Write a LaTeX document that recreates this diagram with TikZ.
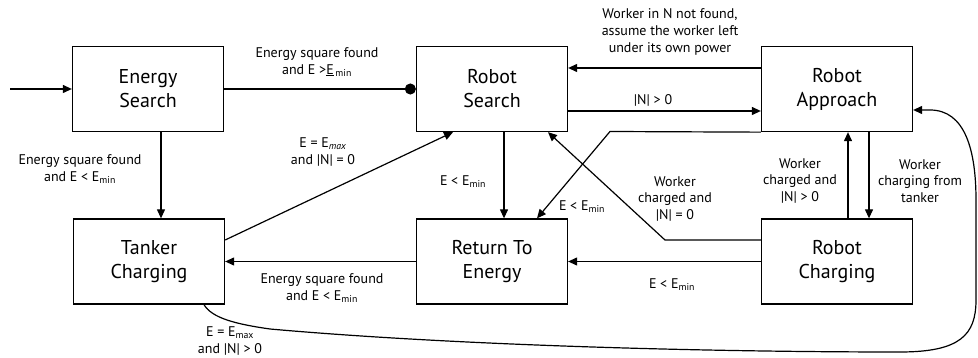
\documentclass[tikz,border=0pt]{standalone}
\usepackage{fontspec}
\setmainfont{PT Sans}
\usetikzlibrary{arrows.meta}
\newcommand{\Emin}{E\textsubscript{min}}
\begin{document}
\begin{tikzpicture}[x=1pt,y=-1pt,
  statebox/.style={draw,line width=1.3pt,minimum width=151pt,minimum height=85pt,inner sep=0pt,align=center,font=\fontsize{20}{24}\selectfont},
  lbl/.style={align=center,inner sep=0pt,font=\fontsize{14}{16.8}\selectfont},
  conn/.style={line width=1.2pt,-{Triangle[length=9pt,width=8pt]}},
  dot/.style={line width=1.2pt,-{Circle[length=11pt]}}]
\useasboundingbox (0,0) rectangle (978,358);

\node[statebox] (ES) at (148,89) {Energy\\Search};
\node[statebox] (RS) at (492,89) {Robot\\Search};
\node[statebox] (RA) at (837,89) {Robot\\Approach};
\node[statebox] (TC) at (149,261.5) {Tanker\\Charging};
\node[statebox] (RE) at (492,261.5) {Return To\\Energy};
\node[statebox] (RC) at (837,261.5) {Robot\\Charging};

\coordinate (in) at (10,89);
\coordinate (bendA) at (610,131.5);
\coordinate (bendB) at (665,240);

\draw[conn] (in) -- (ES.west);
\draw[dot] (ES.east) -- (RS.west);
\draw[conn] ([xshift=13pt]ES.south) -- ([xshift=13pt]ES.south |- TC.north);
\draw[conn] ([yshift=21.5pt]TC.east) -- ([xshift=-39pt]RS.south);
\draw[conn] ([xshift=12pt]RS.south) -- ([xshift=12pt]RS.south |- RE.north);
\draw[conn] ([yshift=21pt]RA.west) -- ([yshift=21pt]RA.west -| RS.east);
\draw[conn] ([yshift=-22pt]RS.east) -- ([yshift=-22pt]RS.east -| RA.west);
\draw[conn] (RA.south west) -- (bendA) -- ([xshift=45pt]RE.north);
\draw[conn] ([yshift=21.5pt]RC.west) -- (bendB) -- ([xshift=56pt]RS.south);
\draw[conn] (RC.west) -- (RE.east);
\draw[conn] (RE.west) -- (TC.east);
\draw[conn] ([xshift=11pt]RC.north) -- ([xshift=11pt]RC.north |- RA.south);
\draw[conn] ([xshift=32pt]RA.south) -- ([xshift=32pt]RA.south |- RC.north);
\draw[conn] ([xshift=55pt]TC.south) .. controls (212,318) and (235,324) .. (270,329)
  .. controls (450,345) and (700,352) .. (900,352)
  .. controls (960,352) and (976,335) .. (976,300)
  -- (976,200)
  .. controls (976,150) and (965,110) .. (930,110)
  -- ([yshift=-21pt]RA.east);

\node[lbl] (l1) at (317,62) {Energy square found\\and E >\underline{E}\textsubscript{\,min}};
\node[lbl] (l2) at (80,169) {Energy square found\\and E < \Emin};
\node[lbl] (l3) at (323,152) {E = E\textsubscript{\textit{max}}\\and |N| = 0};
\node[lbl] (l4) at (463,182) {E < \Emin};
\node[lbl] (l5) at (670,32) {Worker in N not found,\\assume the worker left\\under its own power};
\node[lbl] (l6) at (653,100) {|N| > 0};
\node[lbl] (l7) at (582,207) {E < \Emin};
\node[lbl] (l8) at (675,199) {Worker\\charged and\\|N| = 0};
\node[lbl] (l9) at (800,181) {Worker\\charged and\\|N| > 0};
\node[lbl] (l10) at (920,181) {Worker\\charging from\\tanker};
\node[lbl] (l11) at (322,288) {Energy square found\\and E < \Emin};
\node[lbl] (l12) at (672,285) {E < \Emin};
\node[lbl] (l13) at (230,341) {E = E\textsubscript{max}\\and |N| > 0};
\end{tikzpicture}
\end{document}
